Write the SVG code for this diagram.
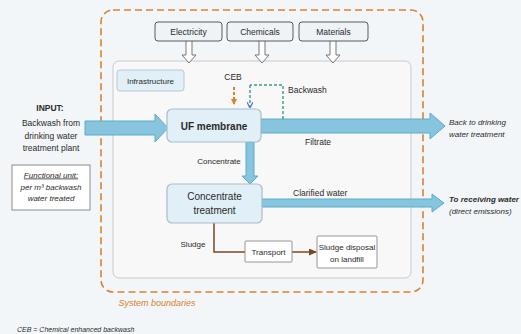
<svg xmlns="http://www.w3.org/2000/svg" width="521" height="334" viewBox="0 0 521 334">
<defs>
<style>
text{font-family:"Liberation Sans",Arial,sans-serif;fill:#2a2a2a;font-size:8px}
.c{text-anchor:middle}
.it{font-style:italic}
.b{font-weight:bold}
.m{font-size:8.5px}
.top{fill:#eef3f7;stroke:#5a5a5a;stroke-width:1}
.hollow{fill:#ffffff;stroke:#6a6a6a;stroke-width:0.9}
.flow{fill:#86c5dd;stroke:#5aaccc;stroke-width:1}
.proc{fill:#e1eff7;stroke:#a9bccb;stroke-width:1.2}
.white{fill:#ffffff;stroke:#8a8a8a;stroke-width:0.9}
</style>
<marker id="ah-or" markerWidth="6" markerHeight="6" refX="5" refY="3" orient="auto" markerUnits="userSpaceOnUse"><path d="M0,0 L6,3 L0,6 z" fill="#d9822b"/></marker>
<marker id="ah-bl" markerWidth="6" markerHeight="6" refX="5" refY="3" orient="auto" markerUnits="userSpaceOnUse"><path d="M0,0 L6,3 L0,6" fill="none" stroke="#4f86c0" stroke-width="1.3"/></marker>
<marker id="ah-br" markerWidth="8" markerHeight="7" refX="7" refY="3.5" orient="auto" markerUnits="userSpaceOnUse"><path d="M0,0 L8,3.5 L0,7 z" fill="#7a4a1f"/></marker>
</defs>
<rect x="0" y="0" width="521" height="334" fill="#f2f6f9"/>

<g id="boundary">
<rect x="101" y="10" width="322" height="282" rx="12" fill="none" stroke="#d9822b" stroke-width="1.6" stroke-dasharray="7,4"/>
<text x="157" y="306" class="c it" style="fill:#d9822b;font-size:9px">System boundaries</text>
</g>

<g id="inner">
<rect x="113" y="61" width="298" height="217" rx="6" fill="#f8f8f8" stroke="#c9c9c9" stroke-width="1"/>
</g>

<g id="connectors">
<polygon class="flow" points="85,121 155,121 155,114 168,128 155,142 155,135 85,135"/>
<polygon class="flow" points="261,119 430,119 430,113 445,126 430,139 430,133 261,133"/>
<polygon class="flow" points="246,142 254,142 254,176 258,176 250,184 242,176 246,176"/>
<polygon class="flow" points="262,199 432,199 432,194 444,203 432,212 432,207 262,207"/>
<path d="M283,119 V85 H250" fill="none" stroke="#3b9a8a" stroke-width="1.4" stroke-dasharray="3,2"/>
<path d="M250,85 V107" fill="none" stroke="#4f86c0" stroke-width="1.4" stroke-dasharray="3,2" marker-end="url(#ah-bl)"/>
<path d="M234,87 V104" fill="none" stroke="#d9822b" stroke-width="2" stroke-dasharray="3,2" marker-end="url(#ah-or)"/>
<polyline points="214,223 214,252 245,252" fill="none" stroke="#7a4a1f" stroke-width="1.5"/>
<path d="M292,252 H316" fill="none" stroke="#7a4a1f" stroke-width="1.5" marker-end="url(#ah-br)"/>
<polygon class="hollow" points="186,40 192,40 192,55 196,55 189,63 182,55 186,55"/>
<polygon class="hollow" points="259,40 265,40 265,55 269,55 262,63 255,55 259,55"/>
<polygon class="hollow" points="330,40 336,40 336,55 340,55 333,63 326,55 330,55"/>
<text x="233" y="80" class="c m">CEB</text>
<text x="288" y="93" class="m">Backwash</text>
<text x="305" y="145" class="m">Filtrate</text>
<text x="219" y="164" class="c">Concentrate</text>
<text x="293" y="196" class="m">Clarified water</text>
<text x="193" y="247" class="c">Sludge</text>
</g>

<g id="electricity">
<rect class="top" x="155" y="22" width="67" height="19" rx="3"/>
<text x="188.5" y="34.5" class="c m">Electricity</text>
</g>
<g id="chemicals">
<rect class="top" x="227" y="22" width="66" height="19" rx="3"/>
<text x="260" y="34.5" class="c m">Chemicals</text>
</g>
<g id="materials">
<rect class="top" x="299" y="22" width="69" height="19" rx="3"/>
<text x="333.5" y="34.5" class="c m">Materials</text>
</g>
<g id="infrastructure">
<rect x="117" y="70" width="67" height="21" rx="3" fill="#e1eff7" stroke="#b8c8d4" stroke-width="1"/>
<text x="150.5" y="83.5" class="c">Infrastructure</text>
</g>
<g id="uf-membrane">
<rect class="proc" x="167" y="109" width="94" height="33" rx="5"/>
<text x="214" y="129.5" class="c b" style="font-size:10px">UF membrane</text>
</g>
<g id="concentrate-treatment">
<rect class="proc" x="167" y="184" width="95" height="39" rx="5"/>
<text x="214.5" y="200" class="c" style="font-size:10px">Concentrate</text>
<text x="214.5" y="214" class="c" style="font-size:10px">treatment</text>
</g>
<g id="transport">
<rect class="white" x="245" y="241" width="47" height="21" rx="1"/>
<text x="268.5" y="255" class="c">Transport</text>
</g>
<g id="sludge-disposal">
<rect class="white" x="317" y="236" width="60" height="32" rx="1"/>
<text x="347" y="249.5" class="c">Sludge disposal</text>
<text x="347" y="261.5" class="c">on landfill</text>
</g>

<g id="input">
<text x="50" y="111" class="c b m">INPUT:</text>
<text x="51" y="126" class="c m">Backwash from</text>
<text x="51" y="138.5" class="c m">drinking water</text>
<text x="51" y="151" class="c m">treatment plant</text>
</g>
<g id="functional-unit">
<rect x="12" y="165" width="78" height="45" fill="#ffffff" stroke="#8a8a8a" stroke-width="1"/>
<text x="51" y="177.5" class="c it" text-decoration="underline">Functional unit:</text>
<text x="51" y="189.5" class="c it">per m³ backwash</text>
<text x="51" y="201" class="c it">water treated</text>
</g>
<g id="back-to-drinking">
<text x="449" y="125" class="it">Back to drinking</text>
<text x="449" y="137" class="it">water treatment</text>
</g>
<g id="to-receiving">
<text x="449" y="202" class="it b">To receiving water</text>
<text x="449" y="214" class="it">(direct emissions)</text>
</g>
<text x="17" y="332" class="it" style="font-size:7px">CEB = Chemical enhanced backwash</text>
</svg>
